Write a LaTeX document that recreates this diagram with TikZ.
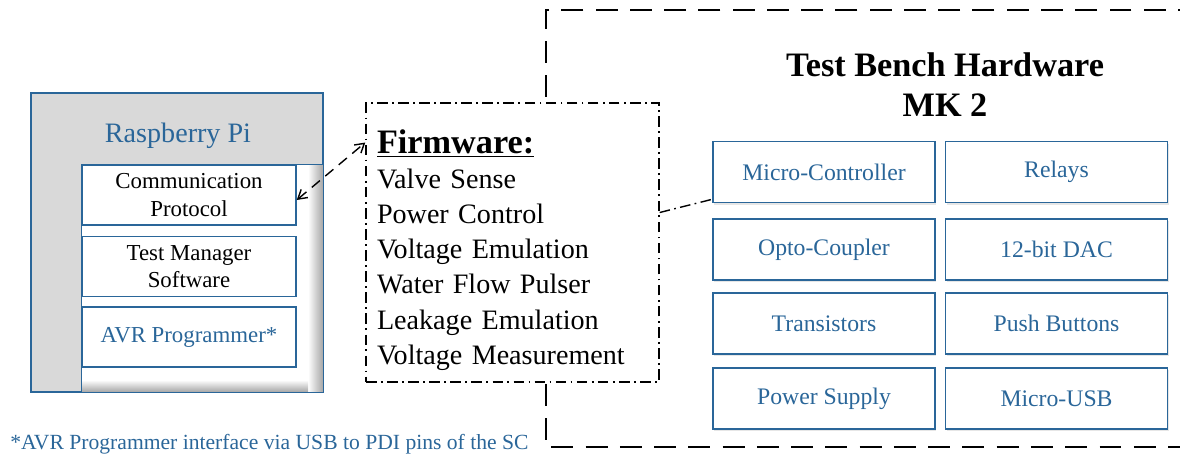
\documentclass[tikz,border=0pt]{standalone}
\usepackage{fontspec}
\setmainfont{Liberation Serif}
\usepackage{xcolor}
\usetikzlibrary{arrows.meta,positioning,calc,shadows}

\definecolor{piblue}{HTML}{2A6699}
\definecolor{pigray}{HTML}{D9D9D9}

\begin{document}
\begin{tikzpicture}[x=0.02cm, y=-0.02cm,
  swbox/.style={draw=piblue, line width=0.9pt, fill=white,
                minimum width=4.28cm, minimum height=1.2cm, inner sep=0pt,
                align=center, font=\fontsize{13}{15.5}\selectfont},
  hwbox/.style={draw=piblue, line width=0.9pt, fill=white,
                minimum width=4.44cm, minimum height=1.22cm, inner sep=0pt,
                text=piblue, font=\fontsize{13.5}{16}\selectfont,
                drop shadow={opacity=0.2, shadow xshift=0.6pt, shadow yshift=-1.2pt}},
  dashdot/.style={line width=0.8pt, dash pattern=on 6pt off 2.5pt on 1pt off 2.5pt},
  longdash/.style={line width=0.8pt, dash pattern=on 12.5pt off 7pt},
  link/.style={{Straight Barb[length=5pt,width=6pt]}-{Straight Barb[length=5pt,width=6pt]},
               line width=0.8pt, dash pattern=on 6pt off 4pt},
]
  \useasboundingbox (0,0) rectangle (1180,455);

  % Test bench frame (runs off the right edge)
  \draw[longdash] (1200,10) -- (546,10) -- (546,447) -- (1200,447);

  % Raspberry Pi
  \node[draw=piblue, line width=0.9pt, fill=pigray, minimum width=5.84cm,
        minimum height=5.98cm, inner sep=0pt] (rpi) at (177,242.5) {};
  \node[text=piblue, font=\fontsize{16}{18}\selectfont] (rpilabel) at (178,136)
    {Raspberry Pi};
  \node[fill=white, minimum width=4.82cm, minimum height=4.54cm,
        inner sep=0pt] (panel) at (202.5,278.5) {};
  \shade[left color=white, right color=black!35] (308,165) rectangle (323,392);
  \shade[top color=white, bottom color=black!35] (82,380) rectangle (308,392);
  \draw[piblue, line width=0.9pt] (panel.south west) rectangle (panel.north east);

  \node[swbox] (comm) at (189,195) {Communication\\Protocol};
  \node[swbox] (tms) at (189,266.5) {Test Manager\\Software};
  \node[swbox, text=piblue] (avr) at (189,337) {AVR Programmer*};

  % Firmware
  \node[dashdot, draw, fill=white, minimum width=5.86cm, minimum height=5.58cm,
        inner xsep=0.22cm, text width=5.42cm, align=left,
        font=\fontsize{16}{20}\selectfont] (fw) at (512.5,242.5)
    {\rule{0pt}{22pt}{\fontsize{19.5}{22}\selectfont\textbf{\underline{Firmware:}}}\\
     Valve Sense\\Power Control\\Voltage Emulation\\Water Flow Pulser\\
     Leakage Emulation\\Voltage Measurement};

  % Hardware
  \node[font=\fontsize{19.5}{22.7}\selectfont\bfseries, align=center] (title)
    at (945,85) {Test Bench Hardware\\MK 2};

  \node[hwbox] (mcu) at (824,172) {Micro-Controller};
  \node[hwbox] (relays) at (1056.5,172) {Relays};
  \node[hwbox] (opto) at (824,249.5) {Opto-Coupler};
  \node[hwbox] (dac) at (1056.5,249.5) {12-bit DAC};
  \node[hwbox] (trans) at (824,323.5) {Transistors};
  \node[hwbox] (buttons) at (1056.5,323.5) {Push Buttons};
  \node[hwbox] (psu) at (824,398.5) {Power Supply};
  \node[hwbox] (usb) at (1056.5,398.5) {Micro-USB};

  % Links
  \draw[link] ([yshift=-0.1cm]comm.east) -- ([yshift=2cm]fw.west);
  \draw[dashdot] ([yshift=0.6cm]fw.east) -- ([yshift=0.08cm]mcu.south west);

  % Footnote
  \node[anchor=west, inner sep=0pt, text=piblue, font=\fontsize{12.3}{15}\selectfont]
    (note) at (10,444) {*AVR Programmer interface via USB to PDI pins of the SC};
\end{tikzpicture}
\end{document}
